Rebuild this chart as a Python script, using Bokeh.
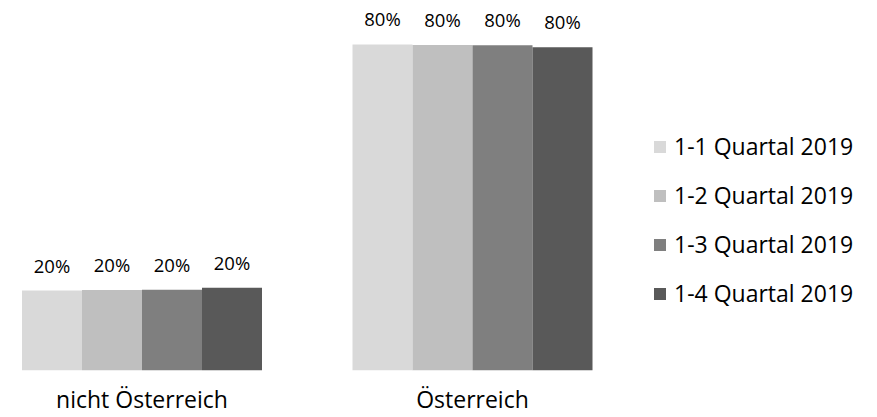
from bokeh.plotting import figure
from bokeh.models import (ColumnDataSource, Range1d, FixedTicker, Legend, LegendItem,
                          LabelSet)
from bokeh.core.properties import value
from bokeh.embed import file_html
from bokeh.resources import INLINE

# ---- data ----
categories = ["nicht Österreich", "Österreich"]
series_names = ["1-1 Quartal 2019", "1-2 Quartal 2019", "1-3 Quartal 2019", "1-4 Quartal 2019"]
q1_values = [19.7, 80.3]
q2_values = [19.8, 80.2]
q3_values = [19.9, 80.1]
q4_values = [20.4, 79.6]
series_values = [q1_values, q2_values, q3_values, q4_values]

# ---- style ----
colors = ["#d9d9d9", "#bfbfbf", "#7f7f7f", "#595959"]
FONT = "Open Sans"
unit = 330.5          # px between category centres
bar_w = 60 / unit
offsets = [-1.5 * bar_w, -0.5 * bar_w, 0.5 * bar_w, 1.5 * bar_w]

p = figure(width=877, height=417, output_backend="svg", toolbar_location=None,
           x_range=Range1d(-141.5 / unit, 735.5 / unit), y_range=Range1d(0, 91.13),
           min_border_left=0, min_border_right=0, min_border_top=0, min_border_bottom=0)
p.outline_line_color = None
p.grid.visible = False
p.yaxis.visible = False
p.background_fill_color = "white"
p.border_fill_color = "white"

cat_pos = list(range(len(categories)))
items = []
for name, vals, col, off in zip(series_names, series_values, colors, offsets):
    src = ColumnDataSource(dict(
        x=[c + off for c in cat_pos],
        top=vals,
        label=[f"{round(v)}%" for v in vals],
    ))
    r = p.vbar(x="x", top="top", width=bar_w, bottom=0, source=src,
               fill_color=col, line_color=None)
    items.append(LegendItem(label=name, renderers=[r]))
    lbl = LabelSet(x="x", y="top", text="label", source=src, text_align="center",
                   text_baseline="alphabetic", y_offset=18, text_font=value(FONT),
                   text_font_size="18.5px", text_color="#000000")
    p.add_layout(lbl)

ax = p.xaxis[0]
ax.ticker = FixedTicker(ticks=cat_pos)
ax.major_label_overrides = {i: c for i, c in zip(cat_pos, categories)}
ax.axis_line_color = None
ax.major_tick_line_color = None
ax.minor_tick_line_color = None
ax.major_tick_out = 0
ax.major_tick_in = 0
ax.major_label_standoff = 12
ax.major_label_text_font = FONT
ax.major_label_text_font_size = "23px"
ax.major_label_text_color = "#000000"

legend = Legend(items=items, location=(652, 61), orientation="vertical",
                glyph_width=15, glyph_height=15, label_standoff=7, spacing=17,
                padding=0, margin=0, border_line_color=None,
                background_fill_alpha=0, label_text_font=FONT,
                label_text_font_size="23px", label_text_color="#000000")
p.add_layout(legend, "center")

open("out.html", "w").write(file_html(p, INLINE))
